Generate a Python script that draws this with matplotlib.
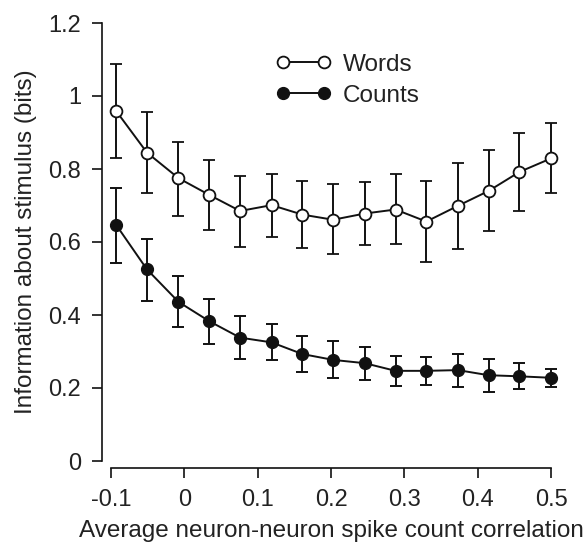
import matplotlib
matplotlib.use("Agg")
import matplotlib.pyplot as plt

plt.rcParams["font.family"] = ["Liberation Sans", "DejaVu Sans"]

# spike count correlation (x) for each group
corr = [-0.093, -0.051, -0.008, 0.034, 0.076, 0.119, 0.161, 0.203,
        0.246, 0.288, 0.330, 0.373, 0.415, 0.457, 0.500]

words = [0.959, 0.845, 0.775, 0.729, 0.685, 0.701, 0.675, 0.661,
         0.678, 0.689, 0.656, 0.699, 0.740, 0.792, 0.829]
words_hi = [1.087, 0.957, 0.875, 0.825, 0.781, 0.786, 0.766, 0.758,
            0.764, 0.785, 0.767, 0.816, 0.851, 0.900, 0.927]
words_lo = [0.831, 0.734, 0.672, 0.632, 0.586, 0.615, 0.583, 0.566,
            0.592, 0.595, 0.545, 0.582, 0.630, 0.685, 0.734]

counts = [0.647, 0.525, 0.436, 0.383, 0.338, 0.325, 0.293, 0.277,
          0.268, 0.247, 0.247, 0.249, 0.235, 0.232, 0.228]
counts_hi = [0.747, 0.608, 0.507, 0.445, 0.397, 0.375, 0.342, 0.329,
             0.312, 0.288, 0.285, 0.293, 0.279, 0.269, 0.252]
counts_lo = [0.543, 0.439, 0.366, 0.321, 0.279, 0.277, 0.243, 0.227,
             0.222, 0.206, 0.207, 0.202, 0.190, 0.196, 0.204]

xticks = [-0.1, 0, 0.1, 0.2, 0.3, 0.4, 0.5]
xticklabels = ["-0.1", "0", "0.1", "0.2", "0.3", "0.4", "0.5"]
yticks = [0, 0.2, 0.4, 0.6, 0.8, 1.0, 1.2]
yticklabels = ["0", "0.2", "0.4", "0.6", "0.8", "1", "1.2"]

W, H = 587, 542
fig = plt.figure(figsize=(W / 100, H / 100), dpi=100)
ax = fig.add_axes([111 / W, (H - 461) / H, (551 - 111) / W, (461 - 23) / H])

lw = 1.4
ink = "#111111"
words_err = [[w - l for w, l in zip(words, words_lo)],
             [h - w for w, h in zip(words, words_hi)]]
counts_err = [[c - l for c, l in zip(counts, counts_lo)],
              [h - c for c, h in zip(counts, counts_hi)]]

eb_c = ax.errorbar(corr, counts, yerr=counts_err, color=ink, lw=lw,
                   elinewidth=lw, capsize=4, capthick=lw, marker="o", ms=8.5,
                   mfc=ink, mec=ink, label="Counts", zorder=3)
eb_w = ax.errorbar(corr, words, yerr=words_err, color=ink, lw=lw,
                   elinewidth=lw, capsize=4, capthick=lw, marker="o", ms=8.5,
                   mfc="white", mec=ink, mew=1.3, label="Words", zorder=4)
for eb in (eb_c, eb_w):
    for art in eb.get_children():
        art.set_clip_on(False)

ax.set_xlim(-0.1, 0.5)
ax.set_ylim(0, 1.2)
ax.set_xticks(xticks)
ax.set_xticklabels(xticklabels)
ax.set_yticks(yticks)
ax.set_yticklabels(yticklabels)

for s in ["top", "right"]:
    ax.spines[s].set_visible(False)
ax.spines["left"].set_position(("outward", 6.5))
ax.spines["bottom"].set_position(("outward", 5))
ax.spines["left"].set_bounds(0, 1.2)
ax.spines["bottom"].set_bounds(-0.1, 0.5)
for s in ["left", "bottom"]:
    ax.spines[s].set_linewidth(1.2)
    ax.spines[s].set_color(ink)

ax.tick_params(direction="out", length=7, width=1.2, labelsize=17,
               color=ink, labelcolor="#222222", pad=8)

ax.set_xlabel("Average neuron-neuron spike count correlation",
              fontsize=17.5, color="#222222", labelpad=6.5)
ax.set_ylabel("Information about stimulus (bits)",
              fontsize=17.5, color="#222222", labelpad=8)

handles, labels = ax.get_legend_handles_labels()
handles = [h[0] for h in handles]
ax.legend(handles[::-1], labels[::-1], loc="upper left",
          bbox_to_anchor=(0.325, 0.98), frameon=False, numpoints=2,
          fontsize=17.5, handlelength=2.3, handletextpad=0.45,
          labelspacing=0.38, labelcolor="#222222")

fig.savefig("out.png", dpi=100)
